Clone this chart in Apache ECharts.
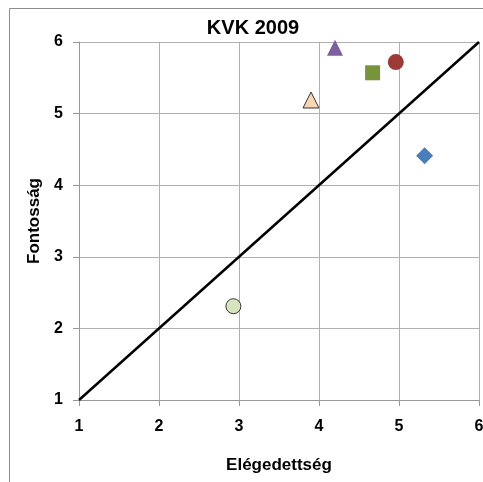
<!DOCTYPE html>
<html><head><meta charset="utf-8">
<script src="https://cdn.jsdelivr.net/npm/echarts@6/dist/echarts.min.js"></script>
<style>html,body{margin:0;padding:0;background:#fff}#c{width:483px;height:482px}</style>
</head><body><div id="c"></div>
<script>
const xTicks = [1, 2, 3, 4, 5, 6];
const yTicks = [1, 2, 3, 4, 5, 6];
const diagonal = [[1, 1], [6, 6]];
const pointNames = ['A', 'B', 'C', 'D', 'E', 'F'];
const pointX = [5.32, 4.67, 4.96, 4.2, 3.9, 2.93];
const pointY = [4.41, 5.57, 5.72, 5.92, 5.19, 2.31];
const pointSymbols = ['diamond', 'rect', 'circle', 'triangle', 'triangle', 'circle'];
const pointSizes = [17, 15, 16, 16, 16, 15];
const pointColors = ['#4A7EBB', '#77933C', '#9B3A37', '#7D5FA0', '#FCD5B5', '#D7E4BD'];
const pointBorders = [null, null, null, null, '#333', '#333'];

const font = 'Liberation Sans, Arial, sans-serif';
const series = [{
  type: 'line', data: diagonal, symbol: 'none', silent: true,
  lineStyle: {color: '#000', width: 2.5}, z: 2
}];
pointNames.forEach((n, i) => {
  series.push({
    type: 'scatter', name: n, data: [[pointX[i], pointY[i]]],
    symbol: pointSymbols[i], symbolSize: pointSizes[i],
    itemStyle: {color: pointColors[i], borderColor: pointBorders[i] || pointColors[i], borderWidth: pointBorders[i] ? 1 : 0, opacity: 1},
    z: 3
  });
});
const chart = echarts.init(document.getElementById('c'), null, {renderer: 'canvas'});
chart.setOption({
  animation: false,
  backgroundColor: '#fff',
  title: {text: 'KVK 2009', left: 248, top: 13, textAlign: 'center',
    textStyle: {fontFamily: font, fontWeight: 'bold', fontSize: 20, color: '#000'}},
  graphic: [{type: 'rect', shape: {x: 9.5, y: 8.5, width: 490, height: 490}, style: {fill: null, stroke: '#8c8c8c', lineWidth: 1}, silent: true}],
  grid: {left: 79, right: 4, top: 42, bottom: 82, outerBoundsMode: 'none', containLabel: false},
  xAxis: {
    type: 'value', min: 1, max: 6, interval: 1,
    name: 'Elégedettség', nameLocation: 'middle', nameGap: 57,
    nameTextStyle: {fontFamily: font, fontWeight: 'bold', fontSize: 17, color: '#000'},
    axisLine: {show: true, lineStyle: {color: '#999', width: 1}},
    axisTick: {show: true, length: 6, lineStyle: {color: '#999'}},
    axisLabel: {fontFamily: font, fontWeight: 'bold', fontSize: 16, color: '#000', margin: 19,
      formatter: v => xTicks.includes(v) ? String(v) : ''},
    splitLine: {show: true, lineStyle: {color: '#b0b0b0', width: 1}}
  },
  yAxis: {
    type: 'value', min: 1, max: 6, interval: 1,
    name: 'Fontosság', nameLocation: 'middle', nameGap: 33, nameRotate: 90,
    nameTextStyle: {fontFamily: font, fontWeight: 'bold', fontSize: 17, color: '#000'},
    axisLine: {show: true, lineStyle: {color: '#999', width: 1}},
    axisTick: {show: true, length: 6, lineStyle: {color: '#999'}},
    axisLabel: {fontFamily: font, fontWeight: 'bold', fontSize: 16, color: '#000', margin: 16,
      formatter: v => yTicks.includes(v) ? String(v) : ''},
    splitLine: {show: true, lineStyle: {color: '#b0b0b0', width: 1}}
  },
  series: series
});
</script>
</body></html>
